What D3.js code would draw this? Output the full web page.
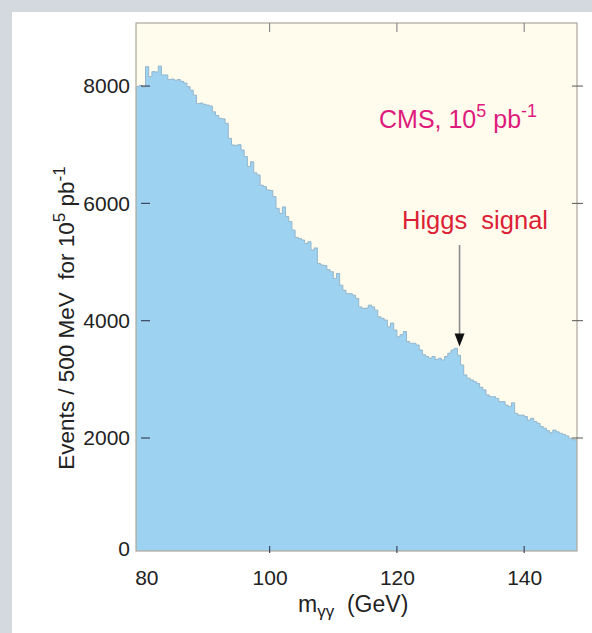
<!DOCTYPE html>
<html>
<head>
<meta charset="utf-8">
<script src="https://cdn.jsdelivr.net/npm/d3@7"></script>
<style>
  html, body { margin: 0; padding: 0; background: #d4d9e0; }
  svg { display: block; }
  text { font-family: "Liberation Sans", Arial, Helvetica, sans-serif; white-space: pre; }
</style>
</head>
<body>
<svg id="chart" width="592" height="633"></svg>
<script>
// ---- data ----
const binStart = 79.0;      // GeV, low edge of first bin
const binWidth = 0.5;       // GeV (500 MeV)
const counts = [
  7990, 8010, 7980, 8330, 8160, 8245, 8240, 8340, 8190, 8190,
  8110, 8120, 8100, 8110, 8080, 8050, 7990, 7930, 7845, 7700,
  7710, 7690, 7675, 7660, 7560, 7500, 7450, 7440, 7365, 7110,
  6995, 6990, 7000, 6910, 6800, 6630, 6710, 6520, 6485, 6310,
  6285, 6230, 6220, 6115, 5915, 5830, 5940, 5775, 5690, 5545,
  5420, 5400, 5375, 5315, 5345, 5205, 5240, 4975, 4950, 4940,
  4870, 4835, 4720, 4805, 4605, 4520, 4460, 4460, 4435, 4380,
  4235, 4210, 4215, 4265, 4235, 4180, 4065, 4040, 4010, 3895,
  3960, 3840, 3725, 3760, 3815, 3645, 3615, 3615, 3585, 3500,
  3420, 3390, 3360, 3390, 3340, 3360, 3330, 3390, 3445, 3500,
  3530, 3410, 3245, 3075, 3020, 2990, 2960, 2930, 2865, 2820,
  2735, 2705, 2705, 2675, 2620, 2620, 2560, 2535, 2600, 2420,
  2390, 2390, 2365, 2305, 2335, 2280, 2250, 2195, 2165, 2125,
  2090, 2135, 2105, 2080, 2060, 2035, 1995, 1970, 1970
];
const xTicks = [80, 100, 120, 140];
const yTicks = [0, 2000, 4000, 6000, 8000];
const xDomain = [79, 148.3];
const yDomain = [0, 2000, 9075];
const higgsMass = 130;
const arrowFrom = 5290, arrowTo = 3560;

// ---- layout ----
const L = 136, R = 577, T = 23, B = 551;
const svg = d3.select("#chart");

const x = d3.scaleLinear().domain(xDomain).range([L, R]);
const y = d3.scaleLinear().domain(yDomain).range([B, 438, T]);

// panel backgrounds
svg.append("rect").attr("x", 12).attr("y", 12).attr("width", 580).attr("height", 621).attr("fill", "#ffffff");
svg.append("rect").attr("x", L).attr("y", T).attr("width", R - L).attr("height", B - T).attr("fill", "#fffcee");

svg.append("clipPath").attr("id", "clip")
  .append("rect").attr("x", L).attr("y", T).attr("width", R - L).attr("height", B - T);

// histogram
const pts = counts.map((c, i) => ({ e: binStart + i * binWidth, v: c }));
pts.push({ e: binStart + counts.length * binWidth, v: counts[counts.length - 1] });

const area = d3.area().curve(d3.curveStepAfter)
  .x(d => x(d.e)).y0(y(0)).y1(d => y(d.v));
const line = d3.line().curve(d3.curveStepAfter)
  .x(d => x(d.e)).y(d => y(d.v));

const g = svg.append("g").attr("clip-path", "url(#clip)");
g.append("path").datum(pts).attr("d", area).attr("fill", "#9ed2f1");
g.append("path").datum(pts).attr("d", line).attr("fill", "none")
  .attr("stroke", "#93b6cc").attr("stroke-width", 1);

// frame
svg.append("rect").attr("x", L).attr("y", T).attr("width", R - L).attr("height", B - T)
  .attr("fill", "none").attr("stroke", "#aaa79c").attr("stroke-width", 1.2);

// tick marks
const tickCol = "#3a4660";
svg.append("g").selectAll("line.tb").data(xTicks.filter(d => d > 80)).join("line")
  .attr("x1", d => x(d)).attr("x2", d => x(d)).attr("y1", B - 5).attr("y2", B + 2)
  .attr("stroke", tickCol).attr("stroke-width", 1.2);
svg.append("g").selectAll("line.tt").data(xTicks.filter(d => d > 80)).join("line")
  .attr("x1", d => x(d)).attr("x2", d => x(d)).attr("y1", T).attr("y2", T + 9)
  .attr("stroke", "#777").attr("stroke-width", 1);
svg.append("g").selectAll("line.tl").data(yTicks.filter(d => d > 0)).join("line")
  .attr("x1", L + 5).attr("x2", L + 14).attr("y1", d => y(d)).attr("y2", d => y(d))
  .attr("stroke", tickCol).attr("stroke-width", 1.2);
svg.append("g").selectAll("line.tr").data(yTicks.filter(d => d > 0)).join("line")
  .attr("x1", R - 5).attr("x2", R + 6).attr("y1", d => y(d)).attr("y2", d => y(d))
  .attr("stroke", "#555").attr("stroke-width", 1);

// tick labels via axis generators
const xAxis = svg.append("g").attr("transform", `translate(0,${B})`)
  .call(d3.axisBottom(x).tickValues(xTicks).tickSize(0).tickPadding(19).tickFormat(d3.format("d")));
xAxis.select(".domain").remove();
xAxis.selectAll("text").attr("font-size", 21).attr("fill", "#222")
  .attr("font-family", "'Liberation Sans', Arial, sans-serif")
  .attr("dx", d => d === 80 ? 4 : 0);

const yAxis = svg.append("g").attr("transform", `translate(${L},0)`)
  .call(d3.axisLeft(y).tickValues(yTicks).tickSize(0).tickPadding(6).tickFormat(d3.format("d")));
yAxis.select(".domain").remove();
yAxis.selectAll("text").attr("font-size", 21).attr("fill", "#222")
  .attr("font-family", "'Liberation Sans', Arial, sans-serif")
  .attr("dy", d => d === 0 ? "0.2em" : "0.32em");

// axis titles
const xt = svg.append("text").attr("x", 298).attr("y", 612).attr("font-size", 23).attr("fill", "#222");
xt.append("tspan").text("m");
xt.append("tspan").attr("font-size", 17).attr("dy", 5).text("γγ");
xt.append("tspan").attr("dy", -5).text("  (GeV)");

const yt = svg.append("text").attr("transform", "translate(74,318) rotate(-90)")
  .attr("text-anchor", "middle").attr("font-size", 22.5).attr("fill", "#222");
yt.append("tspan").text("Events / 500 MeV  for 10");
yt.append("tspan").attr("font-size", 17).attr("dy", -9).text("5");
yt.append("tspan").attr("dy", 9).text(" pb");
yt.append("tspan").attr("font-size", 17).attr("dy", -9).text("-1");

// annotations
const cms = svg.append("text").attr("x", 379).attr("y", 128).attr("font-size", 25).attr("fill", "#de1a7c");
cms.append("tspan").text("CMS, 10");
cms.append("tspan").attr("font-size", 18).attr("dy", -11).text("5");
cms.append("tspan").attr("dy", 11).text(" pb");
cms.append("tspan").attr("font-size", 18).attr("dy", -11).text("-1");

svg.append("text").attr("x", 402).attr("y", 229).attr("font-size", 25.5).attr("fill", "#dc1f35")
  .text("Higgs  signal");

// arrow
const ax = x(higgsMass) - 1;
svg.append("line").attr("x1", ax).attr("x2", ax).attr("y1", y(arrowFrom)).attr("y2", y(arrowTo) - 10)
  .attr("stroke", "#8a8a8a").attr("stroke-width", 1.6);
svg.append("path")
  .attr("d", `M${ax - 5},${y(arrowTo) - 13} L${ax + 5},${y(arrowTo) - 13} L${ax},${y(arrowTo)} Z`)
  .attr("fill", "#111");
</script>
</body>
</html>
